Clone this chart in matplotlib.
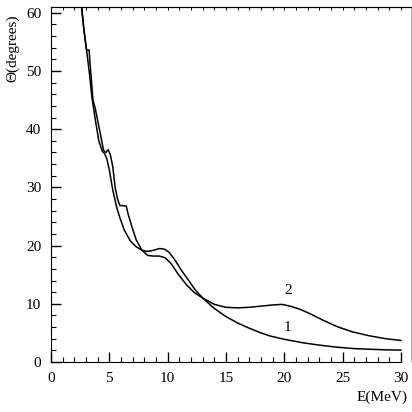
import matplotlib.pyplot as plt
from matplotlib.ticker import MultipleLocator

# curve 1 (smooth)
e1 = [2.6, 2.8, 3.05, 3.3, 3.5, 3.8, 4.1, 4.4, 4.6, 4.8, 5.0, 5.3, 5.6, 5.9, 6.3,
      6.8, 7.3, 7.8, 8.3, 8.8, 9.3, 9.7, 10.1, 10.6, 11.2, 11.8, 12.4, 13.0, 14.0,
      15.0, 16.0, 17.0, 18.0, 18.8, 20.0, 21.6, 23.0, 24.5, 26.0, 27.3, 28.5, 30.0]
t1 = [61.5, 57.5, 53.6, 49.5, 45.6, 41.6, 38.0, 36.2, 35.8, 34.8, 33.0, 29.5, 26.8,
      24.8, 22.6, 20.8, 19.8, 19.2, 19.0, 19.2, 19.5, 19.4, 18.9, 17.6, 15.7, 14.0,
      12.3, 11.0, 9.2, 7.8, 6.7, 5.8, 5.0, 4.45, 3.9, 3.3, 2.9, 2.55, 2.3, 2.2, 2.1, 2.05]

# curve 2 (with steps)
e2 = [2.6, 2.8, 3.0, 3.05, 3.27, 3.32, 3.6, 3.8, 4.0, 4.3, 4.5, 4.7, 4.9, 5.1, 5.3,
      5.5, 5.7, 5.9, 6.45, 6.6, 6.9, 7.3, 7.8, 8.3, 8.8, 9.3, 9.8, 10.3, 10.9, 11.6,
      12.3, 13.0, 14.0, 15.0, 16.0, 17.0, 18.0, 19.0, 19.8, 20.5, 21.3, 22.2, 23.3,
      24.5, 25.8, 27.3, 28.7, 30.0]
t2 = [61.5, 57.5, 54.2, 53.6, 53.6, 52.0, 45.0, 43.5, 41.5, 38.5, 36.4, 36.0, 36.5,
      35.5, 33.5, 30.0, 28.0, 26.9, 26.8, 25.5, 23.5, 21.0, 19.2, 18.3, 18.2, 18.2,
      17.9, 16.9, 15.1, 13.3, 11.9, 11.0, 9.9, 9.4, 9.3, 9.4, 9.6, 9.8, 9.9, 9.6,
      9.1, 8.3, 7.2, 6.1, 5.2, 4.5, 4.0, 3.7]

plt.rcParams['font.family'] = ['Liberation Serif', 'DejaVu Serif']

fig = plt.figure(figsize=(4.12, 4.12), dpi=100)
ax = fig.add_axes([51 / 412, 50 / 412, 360 / 412, 355 / 412])

ax.plot(e1, t1, color='black', lw=1.1)
ax.plot(e2, t2, color='black', lw=1.1)

ax.set_xlim(0, 30.86)
ax.set_ylim(0, 61.0)

ax.xaxis.set_major_locator(MultipleLocator(5))
ax.xaxis.set_minor_locator(MultipleLocator(1))
ax.yaxis.set_major_locator(MultipleLocator(10))
ax.yaxis.set_minor_locator(MultipleLocator(2))
ax.set_xticks([0, 5, 10, 15, 20, 25, 30])
ax.tick_params(which='major', direction='in', length=7, width=1, labelsize=11, pad=7)
ax.tick_params(which='minor', direction='in', length=3.5, width=0.8)
ax.tick_params(top=False, right=False)

ax.spines['bottom'].set_bounds(0, 30)
ax.spines['right'].set_color('#aaaaaa')
ax.spines['right'].set_linewidth(0.6)

top = ax.secondary_xaxis('top')
top.set_xticks(range(0, 31))
top.tick_params(direction='in', length=2, width=0.7, labeltop=False)

ax.text(20.3, 12.3, '2', fontsize=11, ha='center', va='center')
ax.text(20.3, 6.0, '1', fontsize=11, ha='center', va='center')

fig.text(408 / 412, 1 - 397 / 412, 'E(MeV)', fontsize=11, ha='right', va='center')
fig.text(13 / 412, 1 - 14 / 412, 'Θ(degrees)', fontsize=11, rotation=90,
         ha='center', va='top')

fig.savefig('out.png', dpi=100)
